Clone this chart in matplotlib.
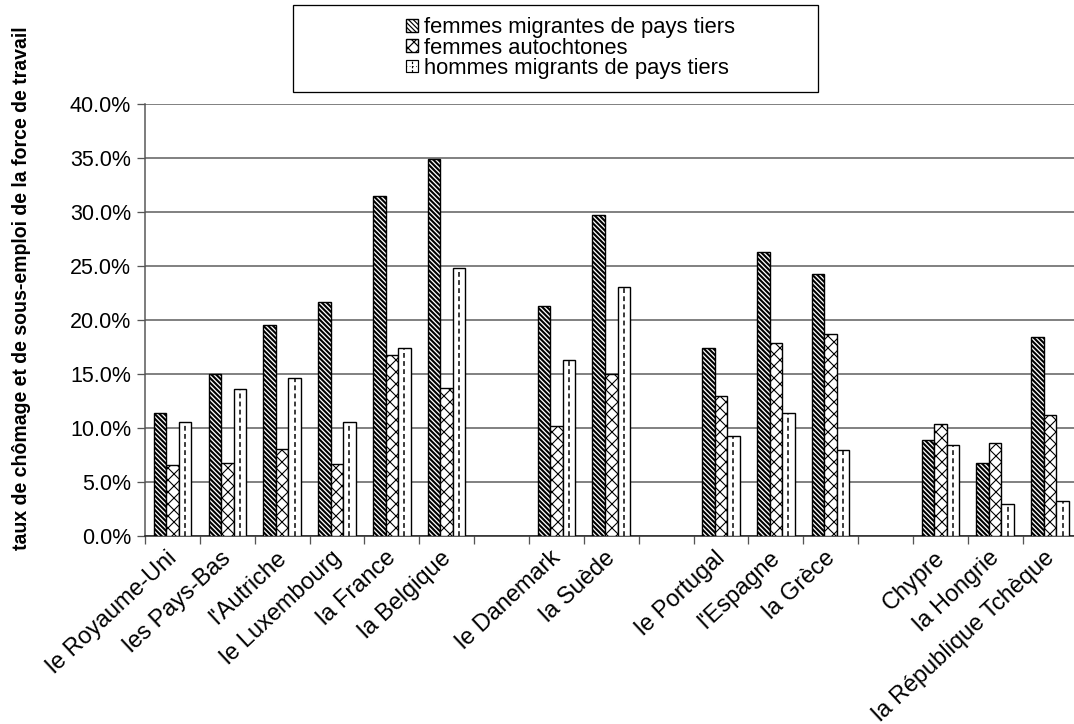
import numpy as np
import matplotlib
matplotlib.use("Agg")
import matplotlib.pyplot as plt
from matplotlib.patches import Rectangle
from matplotlib.lines import Line2D
from matplotlib.legend_handler import HandlerBase
from matplotlib.transforms import ScaledTranslation

# ---- data -------------------------------------------------------------
groups = [
    ["le Royaume-Uni", "les Pays-Bas", "l'Autriche", "le Luxembourg",
     "la France", "la Belgique"],
    ["le Danemark", "la Suède"],
    ["le Portugal", "l'Espagne", "la Grèce"],
    ["Chypre", "la Hongrie", "la République Tchèque"],
]
series_names = ["femmes migrantes de pays tiers",
                "femmes autochtones",
                "hommes migrants de pays tiers"]
femmes_migrantes = [11.4, 15.0, 19.5, 21.7, 31.5, 34.9,
                    21.3, 29.7,
                    17.4, 26.3, 24.3,
                    8.9, 6.8, 18.4]
femmes_autochtones = [6.6, 6.8, 8.1, 6.7, 16.8, 13.7,
                      10.2, 15.0,
                      13.0, 17.9, 18.7,
                      10.4, 8.6, 11.2]
hommes_migrants = [10.6, 13.6, 14.6, 10.6, 17.4, 24.8,
                   16.3, 23.1,
                   9.3, 11.4, 8.0,
                   8.4, 3.0, 3.2]
y_ticks = [0, 5, 10, 15, 20, 25, 30, 35, 40]
y_label = "taux de chômage et de sous-emploi de la force de travail"

# ---- layout helpers ---------------------------------------------------
DPI = 144
W, H = 1074, 724


def pt(v):
    """pixels -> points"""
    return v * 72.0 / DPI


plt.rcParams["font.family"] = ["Liberation Sans", "DejaVu Sans"]
plt.rcParams["hatch.linewidth"] = pt(1.2)

# slot positions, one empty slot between groups
labels, centers = [], []
slot = 0
for gi, g in enumerate(groups):
    for name in g:
        labels.append(name)
        centers.append(slot)
        slot += 1
    if gi < len(groups) - 1:
        slot += 1
n_slots = slot
centers = np.array(centers, dtype=float)

fig = plt.figure(figsize=(W / DPI, H / DPI), dpi=DPI)
ax = fig.add_axes([145 / W, 1 - 536 / H, (1077.5 - 145) / W, (536 - 104) / H])

bw = 0.228
edge_lw = pt(1.4)


def set_hatch_lw(bars, lw):
    for p in bars:
        if hasattr(p, "set_hatch_linewidth"):
            p.set_hatch_linewidth(lw)


with plt.rc_context({"hatch.linewidth": pt(2.1)}):
    b1 = ax.bar(centers - bw, femmes_migrantes, bw, facecolor="white",
                edgecolor="black", linewidth=edge_lw,
                hatch="\\" * 10, zorder=3)
set_hatch_lw(b1, pt(2.1))
with plt.rc_context({"hatch.linewidth": pt(1.1)}):
    b2 = ax.bar(centers, femmes_autochtones, bw, facecolor="white",
                edgecolor="black", linewidth=edge_lw, hatch="xxxx", zorder=3)
set_hatch_lw(b2, pt(1.1))
b3 = ax.bar(centers + bw, hommes_migrants, bw, facecolor="white",
            edgecolor="black", linewidth=edge_lw, zorder=3)
# dashed centre line inside each "hommes" bar
ax.vlines(centers + bw, 0, hommes_migrants, colors="black",
          linewidth=pt(1.5), linestyles=(0, (3.2, 2.2)), zorder=4)

# axes styling
ax.set_xlim(-0.5, n_slots - 0.5)
ax.set_ylim(0, 40)
ax.set_yticks(y_ticks)
ax.set_yticklabels([f"{v:.1f}%" for v in y_ticks], fontsize=pt(21.5))
ax.yaxis.grid(True, color="#5a5a5a", linewidth=pt(1.5), zorder=0)
ax.set_axisbelow(True)
for s in ("top", "right"):
    ax.spines[s].set_visible(False)
ax.spines["left"].set_color("#555555")
ax.spines["left"].set_linewidth(pt(1.5))
ax.spines["bottom"].set_color("#222222")
ax.spines["bottom"].set_linewidth(pt(1.5))
ax.tick_params(axis="y", length=pt(8), width=pt(1.3), color="#555555",
               pad=pt(6))

ax.set_xticks(centers)
ax.set_xticklabels(labels, rotation=43, ha="right", va="center",
                   rotation_mode="anchor", fontsize=pt(23.5))
ax.tick_params(axis="x", which="major", length=0, pad=pt(19))
shift = ScaledTranslation(1 / DPI, 0, fig.dpi_scale_trans)
for lab in ax.get_xticklabels():
    lab.set_transform(lab.get_transform() + shift)
ax.set_xticks(np.arange(n_slots + 1) - 0.5, minor=True)
ax.tick_params(axis="x", which="minor", length=pt(8), width=pt(1.3),
               color="#555555")

fig.text(22 / W, 1 - 288 / H, y_label, rotation=90, ha="center",
         va="center", fontsize=pt(19.5), fontweight="bold")


# legend handle for the dashed pattern
class DashedBoxHandler(HandlerBase):
    def create_artists(self, legend, orig_handle, xdescent, ydescent,
                       width, height, fontsize, trans):
        s = min(width, height)
        x0 = xdescent + (width - s) / 2
        y0 = -ydescent + (height - s) / 2
        rect = Rectangle((x0, y0), s, s, facecolor="white",
                         edgecolor="black", linewidth=pt(1.2),
                         transform=trans)
        vl = Line2D([x0 + s / 2, x0 + s / 2], [y0, y0 + s], color="black",
                    linewidth=pt(1.2), linestyle=(0, (2, 1.5)),
                    transform=trans)
        hl = Line2D([x0, x0 + s], [y0 + s / 2, y0 + s / 2], color="black",
                    linewidth=pt(0.8), linestyle=(0, (1, 3)),
                    transform=trans)
        return [rect, vl, hl]


leg = fig.legend([b1[0], b2[0], b3[0]], series_names,
                 loc="center left", bbox_to_anchor=(406 / W, 1 - 48 / H),
                 frameon=False, fontsize=pt(22), handlelength=0.55,
                 handleheight=0.55, handletextpad=0.25, labelspacing=-0.02,
                 borderpad=0, borderaxespad=0,
                 handler_map={b3[0]: DashedBoxHandler()})

fig.patches.append(Rectangle((293 / W, 1 - 92 / H), (818 - 293) / W,
                             (92 - 5) / H, transform=fig.transFigure,
                             facecolor="none", edgecolor="black",
                             linewidth=pt(1.3)))

fig.savefig("out.png", dpi=DPI)
